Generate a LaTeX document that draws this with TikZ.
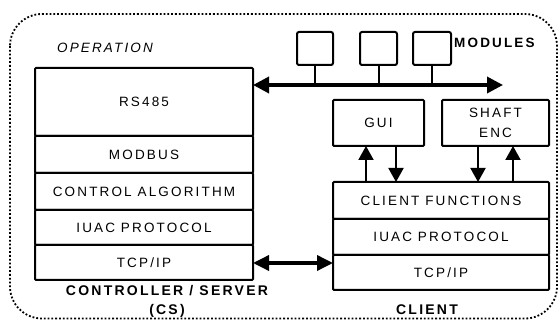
\documentclass[tikz,border=0pt]{standalone}
\usepackage{fontspec}
\setmainfont{Liberation Sans}[LetterSpace=16]
\usetikzlibrary{arrows.meta}
\begin{document}
\begin{tikzpicture}[x=1pt,y=-1pt,
  every node/.style={font=\fontsize{13.5}{20}\selectfont},
  box/.style={draw, line width=2pt, rounded corners=1pt, inner sep=0pt, outer sep=0pt, anchor=north west},
  modbox/.style={draw, line width=2pt, rounded corners=2pt, inner sep=0pt, outer sep=0pt, anchor=north west, minimum height=33pt},
  bold/.style={font=\fontsize{14}{19}\selectfont\bfseries, anchor=base, inner sep=0pt},
  bus/.style={line width=3.5pt, {Triangle[length=16pt,width=16pt]}-{Triangle[length=16pt,width=16pt]}},
  stem/.style={line width=2pt},
  sarrow/.style={line width=2pt, -{Triangle[length=14pt,width=15pt]}}]
\useasboundingbox (0,0) rectangle (560,320);
% outer dotted frame
\draw[line width=1.8pt, dotted, rounded corners=32pt] (10,14) rectangle (557,318.5);
% controller / server stack
\node[box, minimum width=218pt, minimum height=68pt] (rs) at (35,68) {RS485};
\node[box, minimum width=218pt, minimum height=37pt] (mb) at (rs.south west) {MODBUS};
\node[box, minimum width=218pt, minimum height=37pt] (ca) at (mb.south west) {CONTROL ALGORITHM};
\node[box, minimum width=218pt, minimum height=35pt] (ci) at (ca.south west) {IUAC PROTOCOL};
\node[box, minimum width=218pt, minimum height=35pt] (ct) at (ci.south west) {TCP/IP};
\node[font=\fontsize{13.5}{20}\selectfont\itshape, anchor=base, inner sep=0pt] (op) at (105,53) {OPERATION};
\node[bold] (csl) at (167,296) {CONTROLLER / SERVER};
\node[bold] (csl2) at (167,315) {(CS)};
% client stack
\node[box, minimum width=216pt, minimum height=37pt] (cf) at (333,182) {CLIENT FUNCTIONS};
\node[box, minimum width=216pt, minimum height=36pt] (cli) at (cf.south west) {IUAC PROTOCOL};
\node[box, minimum width=216pt, minimum height=35pt] (clt) at (cli.south west) {TCP/IP};
\node[bold] (cll) at (427,315) {CLIENT};
% GUI and shaft encoder
\node[box, minimum width=91pt, minimum height=46pt] (gui) at (333,100) {GUI};
\node[box, minimum width=107pt, minimum height=46pt, align=center] (se) at (442,100) {SHAFT\\ENC};
% modules
\node[modbox, minimum width=36pt] (m1) at (297,32) {};
\node[modbox, minimum width=37pt] (m2) at (360,32) {};
\node[modbox, minimum width=38pt] (m3) at (413,32) {};
\node[bold, anchor=base west, font=\fontsize{13.5}{19}\selectfont\bfseries] (modl) at (454,48) {MODULES};
% bus
\coordinate (busR) at (503,85);
\draw[bus] (rs.east |- busR) -- (busR);
\draw[stem] (m1.south) -- (m1.south |- busR);
\draw[stem] (m2.south) -- (m2.south |- busR);
\draw[stem] (m3.south) -- (m3.south |- busR);
% gui / shaft arrows
\draw[sarrow] ([xshift=33pt]cf.north west) -- ([xshift=33pt]cf.north west |- gui.south);
\draw[sarrow] ([xshift=63pt]gui.south west) -- ([xshift=63pt]gui.south west |- cf.north);
\draw[sarrow] ([xshift=36pt]se.south west) -- ([xshift=36pt]se.south west |- cf.north);
\draw[sarrow] ([xshift=-36pt]cf.north east) -- ([xshift=-36pt]cf.north east |- se.south);
% tcp link
\coordinate (tcpy) at (0,263);
\draw[bus, {Triangle[length=16pt,width=15pt]}-{Triangle[length=16pt,width=15pt]}] (ct.east |- tcpy) -- (clt.west |- tcpy);
\end{tikzpicture}
\end{document}
